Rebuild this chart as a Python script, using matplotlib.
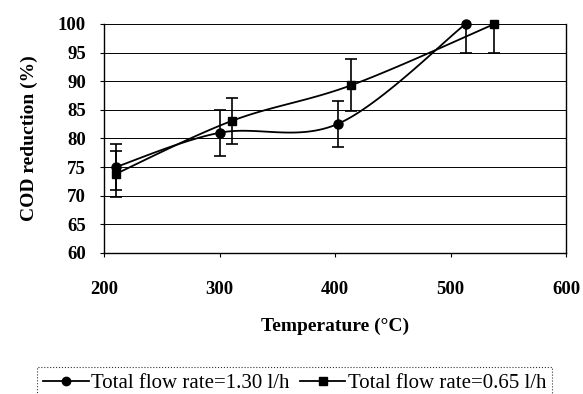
import numpy as np
import matplotlib
matplotlib.use('Agg')
import matplotlib.pyplot as plt

# data
temp_130 = [210, 300, 403, 513]
cod_130 = [75, 81, 82.6, 100]
err_130 = [4, 4, 4, 5]

temp_065 = [210, 311, 414, 538]
cod_065 = [73.8, 83.1, 89.3, 100]
err_065 = [4, 4, 4.5, 5]

label_130 = 'Total flow rate=1.30 l/h'
label_065 = 'Total flow rate=0.65 l/h'
xticks = [200, 300, 400, 500, 600]
yticks = [60, 65, 70, 75, 80, 85, 90, 95, 100]


def smooth(x, y, n=40):
    """Catmull-Rom style bezier through the points (like a spreadsheet smoothed line)"""
    p = np.column_stack([x, y]).astype(float)
    pts = np.vstack([p[0], p, p[-1]])
    out = []
    for i in range(1, len(pts) - 2):
        p0, p1, p2, p3 = pts[i - 1], pts[i], pts[i + 1], pts[i + 2]
        c1 = p1 + (p2 - p0) / 6
        c2 = p2 - (p3 - p1) / 6
        t = np.linspace(0, 1, n)[:, None]
        seg = (1 - t)**3 * p1 + 3 * (1 - t)**2 * t * c1 + 3 * (1 - t) * t**2 * c2 + t**3 * p2
        out.append(seg)
    out = np.vstack(out)
    return out[:, 0], out[:, 1]


plt.rcParams['font.family'] = ['Liberation Serif', 'DejaVu Serif']

fig = plt.figure(figsize=(5.83, 3.94), dpi=100)
ax = fig.add_axes([0.1784, 0.3579, 0.7925, 0.5812])

for yv in yticks[1:]:
    ax.axhline(yv, color='black', lw=0.7, zorder=1)

sx, sy = smooth(temp_130, cod_130)
ax.plot(sx, sy, color='black', lw=1.3, zorder=3, clip_on=False)
sx, sy = smooth(temp_065, cod_065)
ax.plot(sx, sy, color='black', lw=1.3, zorder=3, clip_on=False)

ax.errorbar(temp_130, cod_130, yerr=err_130, fmt='none', ecolor='black',
            elinewidth=1.2, capsize=4, capthick=1.2, zorder=3)
ax.errorbar(temp_065, cod_065, yerr=err_065, fmt='none', ecolor='black',
            elinewidth=1.2, capsize=4, capthick=1.2, zorder=3)
ax.plot(temp_130, cod_130, 'o', color='black', ms=6.5, zorder=4, clip_on=False)
ax.plot(temp_065, cod_065, 's', color='black', ms=6, zorder=4, clip_on=False)

ax.set_xlim(200, 600)
ax.set_ylim(60, 100)
ax.set_xticks(xticks)
ax.set_yticks(yticks)
ax.tick_params(axis='both', direction='out', length=3, width=0.8, labelsize=13.5)
ax.tick_params(axis='x', pad=17)
ax.tick_params(axis='y', pad=10)
for lab in ax.get_xticklabels() + ax.get_yticklabels():
    lab.set_fontweight('bold')

ax.spines['top'].set_visible(False)
for s in ['left', 'right', 'bottom']:
    ax.spines[s].set_linewidth(1.0)

ax.set_xlabel('Temperature (°C)', fontsize=14, fontweight='bold', labelpad=14)
ax.set_ylabel('COD reduction (%)', fontsize=14, fontweight='bold', labelpad=14)

h1, = ax.plot([], [], '-o', color='black', ms=6, lw=1.3)
h2, = ax.plot([], [], '-s', color='black', ms=6, lw=1.3)
leg = fig.legend([h1, h2], [label_130, label_065], loc='center',
                 bbox_to_anchor=(0.505, 0.027), ncol=2, fontsize=15,
                 frameon=True, fancybox=False, edgecolor='black',
                 handlelength=2.2, handletextpad=0.1, columnspacing=0.5,
                 borderpad=0.3)
leg.get_frame().set_linestyle(':')
leg.get_frame().set_linewidth(0.8)

plt.savefig('out.png', dpi=100)
